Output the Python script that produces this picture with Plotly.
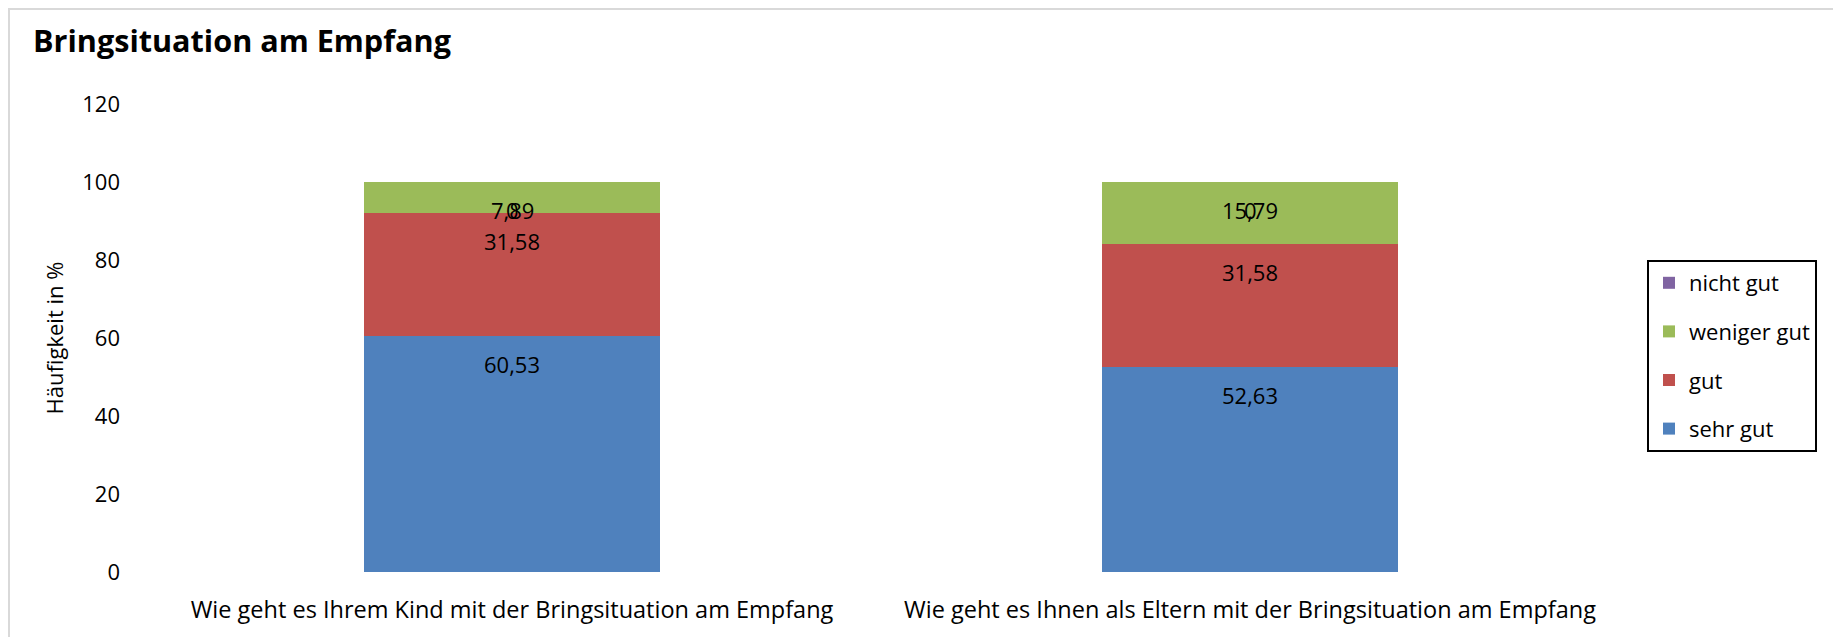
import plotly.graph_objects as go

categories = [
    "Wie geht es Ihrem Kind mit der Bringsituation am Empfang",
    "Wie geht es Ihnen als Eltern mit der Bringsituation am Empfang",
]
series_names = ["sehr gut", "gut", "weniger gut", "nicht gut"]
sehr_gut = [60.53, 52.63]
gut = [31.58, 31.58]
weniger_gut = [7.89, 15.79]
nicht_gut = [0, 0]
colors = ["#4F81BD", "#C0504D", "#9BBB59", "#8064A2"]
y_ticks = [0, 20, 40, 60, 80, 100, 120]

FONT = "Open Sans"
series = [sehr_gut, gut, weniger_gut, nicht_gut]

# page body has an 8px margin: figure coordinates = page coordinates - 8
OFF = 8
W, H = 1841 - OFF, 637 - OFF

fig = go.Figure()
for i, (name, vals) in enumerate(zip(series_names, series)):
    fig.add_trace(go.Bar(
        x=categories, y=vals, name=name,
        marker=dict(color=colors[i], line=dict(width=0)),
        legendgroup=name, legendrank=len(series_names) - i,
    ))

# data labels (Excel "inside end" position)
annotations = []
cum = [0.0] * len(categories)
for vals in series:
    for j, v in enumerate(vals):
        cum[j] += v
        annotations.append(dict(
            x=categories[j], y=cum[j], xref="x", yref="y",
            text=f"{v:.2f}".replace(".", ",") if v != 0 else "0",
            showarrow=False, yanchor="middle", yshift=-28,
            font=dict(family=FONT, size=22, color="black"),
        ))

L, R, T, B = 143 - OFF, 1619 - OFF, 104 - OFF, 572 - OFF
def px_x(p):
    return (p - OFF - L) / (R - L)
def px_y(p):
    return (B - (p - OFF)) / (B - T)

fig.update_layout(
    width=W, height=H,
    margin=dict(l=L, r=W - R, t=T, b=H - B, pad=0),
    barmode="stack", bargap=0.6,
    paper_bgcolor="white", plot_bgcolor="white",
    font=dict(family=FONT, size=22, color="black"),
    title=dict(text="<b>Bringsituation am Empfang</b>", x=(33 - OFF) / W, xanchor="left",
               y=1 - (41 - OFF) / H, yanchor="middle",
               font=dict(family=FONT, size=30.6, color="black")),
    xaxis=dict(showline=False, showgrid=False, ticks="", ticklabelstandoff=21,
               tickfont=dict(family=FONT, size=23.5)),
    yaxis=dict(range=[0, 120], tickvals=y_ticks, showgrid=False, showline=False,
               zeroline=False, ticks="", ticklabelstandoff=22,
               tickfont=dict(family=FONT, size=22),
               title=dict(text="Häufigkeit in %", standoff=12,
                          font=dict(family=FONT, size=22))),
    legend=dict(x=px_x(1647), y=px_y(260), xanchor="left", yanchor="top",
                traceorder="grouped", tracegroupgap=17,
                bordercolor="black", borderwidth=2, bgcolor="white",
                font=dict(family=FONT, size=22)),
    annotations=annotations,
    shapes=[dict(type="rect", xref="paper", yref="paper",
                 x0=px_x(9), x1=px_x(1836), y0=px_y(650), y1=px_y(9),
                 line=dict(color="#D9D9D9", width=2), fillcolor="rgba(0,0,0,0)",
                 layer="below")],
)

fig.write_html("out.html")
